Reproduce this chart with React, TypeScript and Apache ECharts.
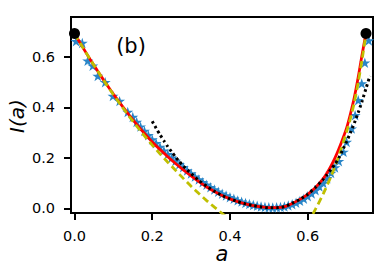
import React, { useEffect, useRef } from "react";
import * as echarts from "echarts";

const FONT = "DejaVu Sans";

// tick labels
const xTicks = [0, 0.2, 0.4, 0.6];
const yTicks = [0, 0.2, 0.4, 0.6];

// red solid curve
const redA = [0, 0.02, 0.04, 0.06, 0.08, 0.1, 0.12, 0.14, 0.16, 0.18, 0.2, 0.22, 0.24, 0.26, 0.28, 0.3, 0.32, 0.34, 0.36, 0.38, 0.4, 0.42, 0.44, 0.46, 0.48, 0.5, 0.52, 0.54, 0.56, 0.58, 0.6, 0.62, 0.64, 0.65, 0.66, 0.67, 0.68, 0.69, 0.7, 0.71, 0.72, 0.73, 0.74, 0.75];
const redI = [0.693, 0.641, 0.591, 0.543, 0.497, 0.453, 0.411, 0.371, 0.333, 0.297, 0.263, 0.233, 0.205, 0.178, 0.153, 0.129, 0.106, 0.085, 0.067, 0.051, 0.038, 0.027, 0.018, 0.011, 0.006, 0.003, 0.003, 0.007, 0.02, 0.036, 0.056, 0.083, 0.118, 0.141, 0.168, 0.199, 0.235, 0.275, 0.318, 0.375, 0.44, 0.52, 0.61, 0.693];

// blue stars
const starA = [0.004, 0.02, 0.034, 0.047, 0.06, 0.079, 0.099, 0.116, 0.137, 0.15, 0.16, 0.17, 0.18, 0.19, 0.2, 0.21, 0.22, 0.23, 0.24, 0.25, 0.26, 0.27, 0.28, 0.29, 0.3, 0.31, 0.32, 0.33, 0.34, 0.35, 0.36, 0.37, 0.38, 0.39, 0.4, 0.41, 0.42, 0.43, 0.44, 0.45, 0.46, 0.47, 0.48, 0.49, 0.5, 0.51, 0.52, 0.53, 0.54, 0.55, 0.56, 0.57, 0.58, 0.59, 0.6, 0.61, 0.62, 0.63, 0.64, 0.65, 0.66, 0.67, 0.68, 0.692, 0.7, 0.713, 0.722, 0.73, 0.739, 0.747, 0.757];
const starI = [0.662, 0.655, 0.585, 0.565, 0.524, 0.5, 0.445, 0.425, 0.382, 0.362, 0.342, 0.324, 0.307, 0.29, 0.273, 0.258, 0.243, 0.229, 0.215, 0.201, 0.188, 0.175, 0.163, 0.15, 0.138, 0.126, 0.115, 0.104, 0.094, 0.084, 0.075, 0.066, 0.058, 0.051, 0.044, 0.038, 0.032, 0.027, 0.022, 0.018, 0.014, 0.011, 0.008, 0.006, 0.005, 0.004, 0.005, 0.006, 0.008, 0.012, 0.017, 0.023, 0.03, 0.038, 0.048, 0.059, 0.072, 0.087, 0.101, 0.12, 0.14, 0.162, 0.187, 0.224, 0.263, 0.316, 0.369, 0.428, 0.495, 0.577, 0.665];

// black dotted curve
const dotA = [0.2, 0.21, 0.22, 0.23, 0.24, 0.25, 0.26, 0.27, 0.28, 0.29, 0.3, 0.32, 0.34, 0.36, 0.38, 0.4, 0.42, 0.44, 0.46, 0.48, 0.5, 0.52, 0.54, 0.56, 0.58, 0.6, 0.62, 0.64, 0.65, 0.66, 0.67, 0.68, 0.69, 0.7, 0.71, 0.72, 0.73, 0.74, 0.75, 0.76];
const dotI = [0.345, 0.318, 0.292, 0.268, 0.245, 0.224, 0.204, 0.185, 0.168, 0.152, 0.138, 0.111, 0.088, 0.068, 0.051, 0.038, 0.027, 0.018, 0.011, 0.006, 0.003, 0.003, 0.007, 0.02, 0.036, 0.056, 0.083, 0.115, 0.134, 0.155, 0.175, 0.2, 0.232, 0.265, 0.3, 0.338, 0.38, 0.425, 0.475, 0.525];

// yellow dashed curve (two visible branches, dips below the axis in between)
const yelLeftA = [0, 0.02, 0.04, 0.06, 0.08, 0.1, 0.12, 0.14, 0.16, 0.18, 0.2, 0.22, 0.24, 0.26, 0.28, 0.3, 0.32, 0.34, 0.36, 0.38, 0.4];
const yelLeftI = [0.693, 0.641, 0.591, 0.543, 0.496, 0.451, 0.408, 0.366, 0.326, 0.287, 0.251, 0.216, 0.183, 0.151, 0.119, 0.088, 0.059, 0.031, 0.005, -0.02, -0.045];
const yelRightA = [0.6, 0.62, 0.64, 0.66, 0.68, 0.7, 0.71, 0.72, 0.73, 0.74, 0.75];
const yelRightI = [-0.06, -0.003, 0.058, 0.127, 0.208, 0.303, 0.357, 0.42, 0.5, 0.59, 0.693];

// black end points
const endA = [0, 0.75];
const endI = [0.693, 0.693];

const zip = (a: number[], b: number[]) => a.map((v, i) => [v, b[i]]);

const STAR =
  "path://M0,-1L0.2245,-0.309L0.951,-0.309L0.363,0.118L0.588,0.809L0,0.382L-0.588,0.809L-0.363,0.118L-0.951,-0.309L-0.2245,-0.309Z";

export default function App() {
  const ref = useRef<HTMLDivElement>(null);
  useEffect(() => {
    const chart = echarts.init(ref.current!, null, { renderer: "svg" });
    const axisCommon = {
      type: "value" as const,
      axisLine: { onZero: false, lineStyle: { color: "#000", width: 2 } },
      splitLine: { show: false },
    };
    const yelStyle = { color: "#bfbf00", width: 2.8, type: [7, 4] as number[] };
    chart.setOption({
      animation: false,
      backgroundColor: "#fff",
      grid: {
        left: 71,
        right: 18,
        top: 17,
        bottom: 61,
        show: true,
        borderColor: "#000",
        borderWidth: 2,
      },
      xAxis: {
        ...axisCommon,
        min: -0.009,
        max: 0.768,
        axisTick: { customValues: xTicks, length: 7, lineStyle: { color: "#000", width: 2 } },
        axisLabel: {
          customValues: xTicks,
          formatter: (v: number) => v.toFixed(1),
          fontSize: 14.5,
          fontFamily: FONT,
          color: "#000",
          margin: 15,
        },
      },
      yAxis: {
        ...axisCommon,
        min: -0.018,
        max: 0.758,
        axisTick: { customValues: yTicks, length: 7, lineStyle: { color: "#000", width: 2 } },
        axisLabel: {
          customValues: yTicks,
          formatter: (v: number) => v.toFixed(1),
          fontSize: 14.5,
          fontFamily: FONT,
          color: "#000",
          margin: 16,
        },
      },
      graphic: [
        {
          type: "text",
          x: 17,
          y: 116,
          rotation: Math.PI / 2,
          style: {
            text: "I(a)",
            font: `italic 20px "${FONT}"`,
            fill: "#000",
            align: "center",
            verticalAlign: "middle",
          },
        },
        {
          type: "text",
          x: 222,
          y: 254,
          style: {
            text: "a",
            font: `italic 21px "${FONT}"`,
            fill: "#000",
            align: "center",
            verticalAlign: "middle",
          },
        },
        {
          type: "text",
          x: 131,
          y: 46,
          style: {
            text: "(b)",
            font: `21px "${FONT}"`,
            fill: "#000",
            align: "center",
            verticalAlign: "middle",
          },
        },
      ],
      series: [
        {
          type: "scatter",
          data: zip(starA, starI),
          symbol: STAR,
          symbolSize: 11,
          symbolKeepAspect: true,
          itemStyle: { color: "#2a86c8", opacity: 1 },
          z: 1,
        },
        {
          type: "line",
          data: zip(redA, redI),
          showSymbol: false,
          smooth: 0.2,
          lineStyle: { color: "#ff0000", width: 2.8 },
          z: 2,
        },
        {
          type: "line",
          data: zip(yelLeftA, yelLeftI),
          showSymbol: false,
          smooth: 0.2,
          lineStyle: yelStyle,
          z: 3,
        },
        {
          type: "line",
          data: zip(yelRightA, yelRightI),
          showSymbol: false,
          smooth: 0.2,
          lineStyle: yelStyle,
          z: 3,
        },
        {
          type: "line",
          data: zip(dotA, dotI),
          showSymbol: false,
          smooth: 0.2,
          lineStyle: { color: "#000", width: 3, type: [2.5, 3] },
          z: 4,
        },
        {
          type: "scatter",
          data: zip(endA, endI),
          symbol: "circle",
          symbolSize: 11,
          itemStyle: { color: "#000", opacity: 1 },
          z: 5,
        },
      ],
    });
    return () => chart.dispose();
  }, []);
  return (
    <div
      ref={ref}
      style={{ position: "absolute", left: 0, top: 0, width: 391, height: 274 }}
    />
  );
}
